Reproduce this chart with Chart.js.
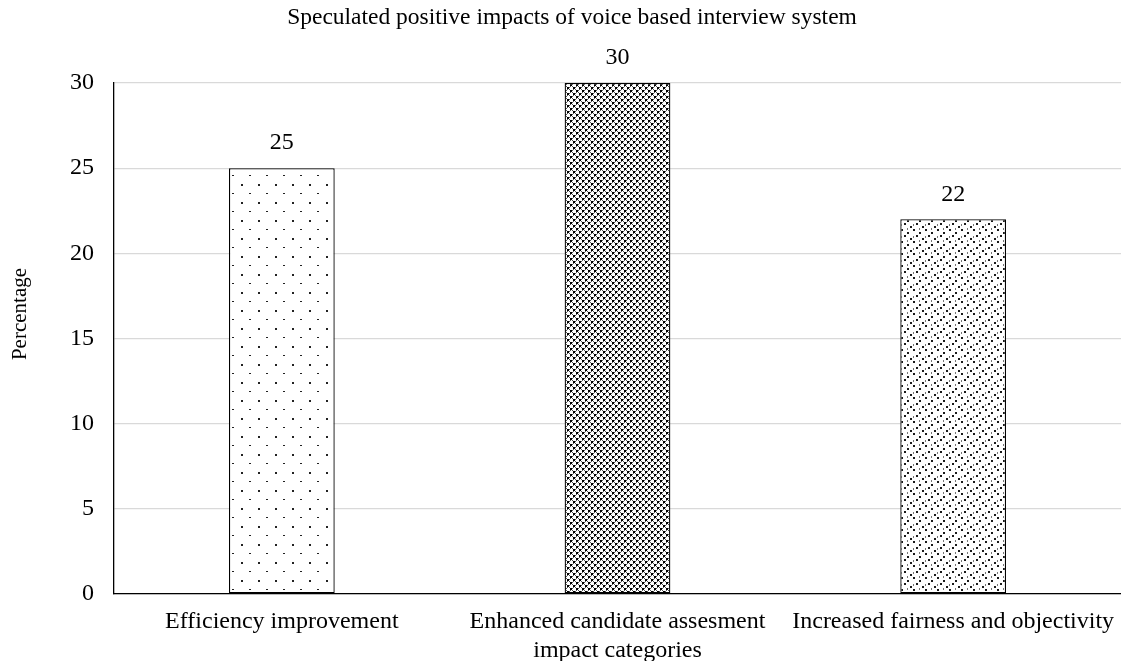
<!DOCTYPE html>
<html>
<head>
<meta charset="utf-8">
<script src="https://cdn.jsdelivr.net/npm/chart.js@4.4.1/dist/chart.umd.min.js"></script>
<style>
  html, body { margin: 0; padding: 0; background: #fff; }
  #wrap { width: 1121px; height: 661px; }
</style>
</head>
<body>
<div id="wrap"><canvas id="c" width="1121" height="661"></canvas></div>
<script>
const categories = ['Efficiency improvement', 'Enhanced candidate assesment', 'Increased fairness and objectivity'];
const percentages = [25, 30, 22];
const yTicks = [0, 5, 10, 15, 20, 25, 30];
const chartTitle = 'Speculated positive impacts of voice based interview system';
const yTitle = 'Percentage';

const FONT = '"Liberation Serif", "Times New Roman", serif';

// Fill patterns for the three bars
function makePattern(kind) {
  const t = document.createElement('canvas');
  const g = t.getContext('2d');
  if (kind === 'sparse') {
    t.width = 17; t.height = 18;
    g.fillStyle = '#fff'; g.fillRect(0, 0, 17, 18);
    g.fillStyle = '#222';
    g.fillRect(3, 4, 2, 2);
    g.fillRect(11, 13, 2, 1);
  } else if (kind === 'dense') {
    t.width = 6; t.height = 6;
    g.fillStyle = '#fff'; g.fillRect(0, 0, 6, 6);
    g.fillStyle = '#000';
    g.fillRect(0, 0, 2, 2);
    g.fillRect(3, 3, 2, 2);
    g.fillStyle = '#555';
    g.fillRect(2, 0, 1, 1); g.fillRect(0, 2, 1, 1);
    g.fillRect(5, 3, 1, 1); g.fillRect(3, 5, 1, 1);
    g.fillRect(2, 2, 1, 1); g.fillRect(5, 5, 1, 1);
  } else {
    t.width = 12; t.height = 12;
    g.fillStyle = '#fff'; g.fillRect(0, 0, 12, 12);
    g.fillStyle = '#1a1a1a';
    g.fillRect(1, 1, 2, 2);
    g.fillRect(7, 4, 2, 2);
    g.fillRect(4, 7, 2, 2);
    g.fillRect(10, 10, 2, 2);
    g.fillStyle = '#777';
    g.fillRect(7, 0, 1, 2);
    g.fillRect(1, 8, 1, 2);
  }
  return g.createPattern(t, 'repeat');
}

const ctx = document.getElementById('c').getContext('2d');
const fills = [makePattern('sparse'), makePattern('dense'), makePattern('medium')];

// Chart title, rotated y-axis title and value labels above each bar
const annotations = {
  id: 'annotations',
  afterDraw(chart) {
    const c = chart.ctx;
    const meta = chart.getDatasetMeta(0);
    c.save();
    c.fillStyle = '#000';
    c.textAlign = 'center';
    c.textBaseline = 'middle';

    c.font = '23.5px ' + FONT;
    c.fillText(chartTitle, 572, 18);

    c.font = '24px ' + FONT;
    meta.data.forEach((bar, i) => {
      c.fillText(String(chart.data.datasets[0].data[i]), bar.x, bar.y - 25);
    });

    c.save();
    c.translate(20, 314);
    c.rotate(-Math.PI / 2);
    c.font = '21px ' + FONT;
    c.fillText(yTitle, 0, 0);
    c.restore();

    c.restore();
  }
};

new Chart(ctx, {
  type: 'bar',
  data: {
    labels: categories,
    datasets: [{
      data: percentages,
      backgroundColor: fills,
      borderColor: '#000',
      borderWidth: 1.3,
      borderSkipped: false,
      categoryPercentage: 1,
      barPercentage: 0.315
    }]
  },
  options: {
    responsive: false,
    animation: false,
    devicePixelRatio: 1,
    layout: { padding: { left: 0, right: -2, top: 83, bottom: 0 } },
    plugins: {
      legend: { display: false },
      tooltip: { enabled: false },
      title: { display: false }
    },
    scales: {
      x: {
        grid: { display: false, drawTicks: false },
        border: { color: '#000', width: 1.3 },
        ticks: { color: '#000', font: { family: FONT, size: 24 }, padding: 13, maxRotation: 0, autoSkip: false },
        title: { display: true, text: 'impact categories', color: '#000', font: { family: FONT, size: 24 }, padding: { top: -4, bottom: -4 } },
        afterFit(s) { s.height = 67; s.paddingLeft = 0; s.paddingRight = 0; }
      },
      y: {
        min: 0, max: 30,
        afterBuildTicks(s) { s.ticks = yTicks.map(v => ({ value: v })); },
        grid: { color: '#d9d9d9', lineWidth: 1.3, drawTicks: false },
        border: { color: '#000', width: 1.3 },
        ticks: { color: '#000', font: { family: FONT, size: 24 }, padding: 20 },
        afterFit(s) { s.width = 114; s.paddingTop = 0; s.paddingBottom = 0; }
      }
    }
  },
  plugins: [annotations]
});
</script>
</body>
</html>
